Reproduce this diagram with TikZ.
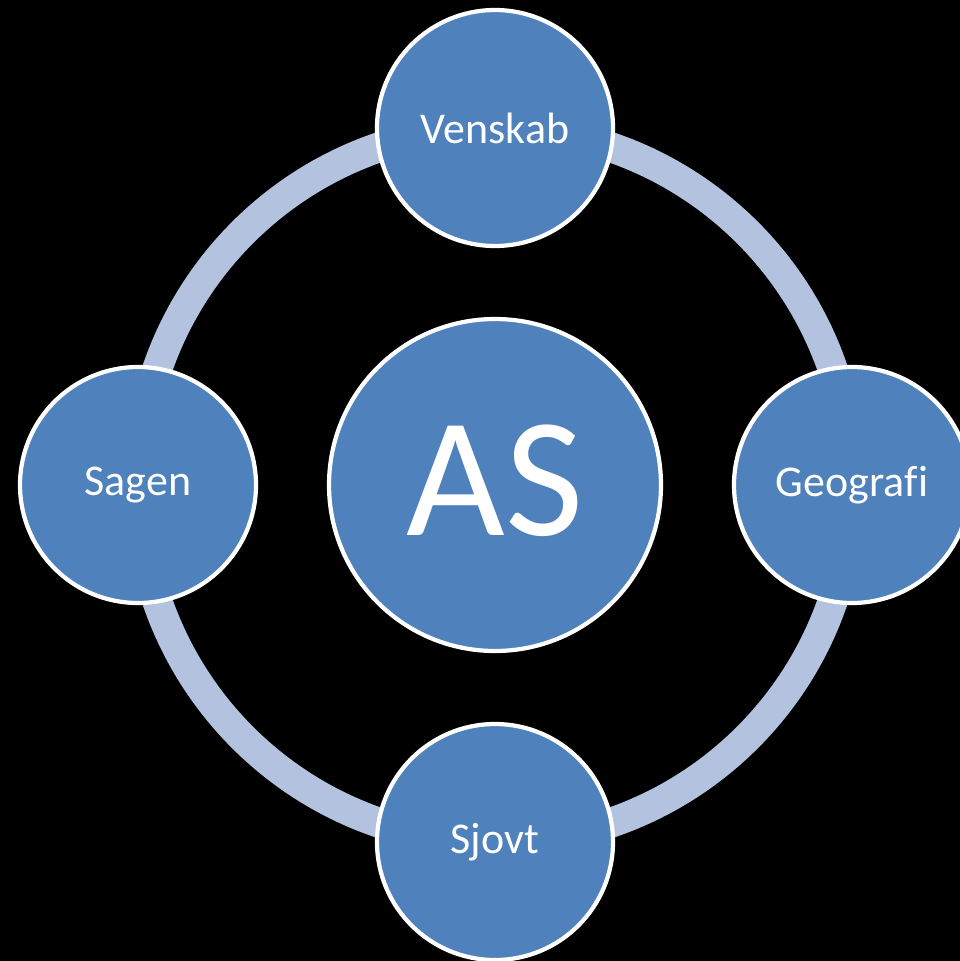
\documentclass[tikz,border=0pt]{standalone}
\usepackage{fontspec}
\setmainfont{Carlito}[Ligatures=NoCommon]
\definecolor{topicblue}{HTML}{4F81BD}
\definecolor{ringblue}{HTML}{B3C3DF}
\tikzset{
  topic/.style={circle, draw=white, line width=2.4pt, fill=topicblue, text=white,
    minimum size=4.72cm, inner sep=0pt, font=\fontsize{25}{30}\selectfont},
  hub/.style={topic, minimum size=6.64cm, font=\fontsize{97}{110}\selectfont},
  ring/.style={draw=ringblue, line width=0.6cm}
}
\begin{document}
\begin{tikzpicture}
  \fill[black] (0,0) rectangle (19.2,-19.22);
  \useasboundingbox (0,0) rectangle (19.2,-19.22);
  \node[hub] (AS) at (9.9,-9.7) {\raisebox{0.2cm}{AS}};
  \draw[ring] (AS.center) circle (7.14cm);
  \node[topic] (Venskab) [above of=AS, node distance=7.14cm] {Venskab};
  \node[topic] (Geografi) [right of=AS, node distance=7.14cm] {Geografi};
  \node[topic] (Sjovt) [below of=AS, node distance=7.14cm] {Sjovt};
  \node[topic] (Sagen) [left of=AS, node distance=7.14cm] {Sagen};
\end{tikzpicture}
\end{document}
